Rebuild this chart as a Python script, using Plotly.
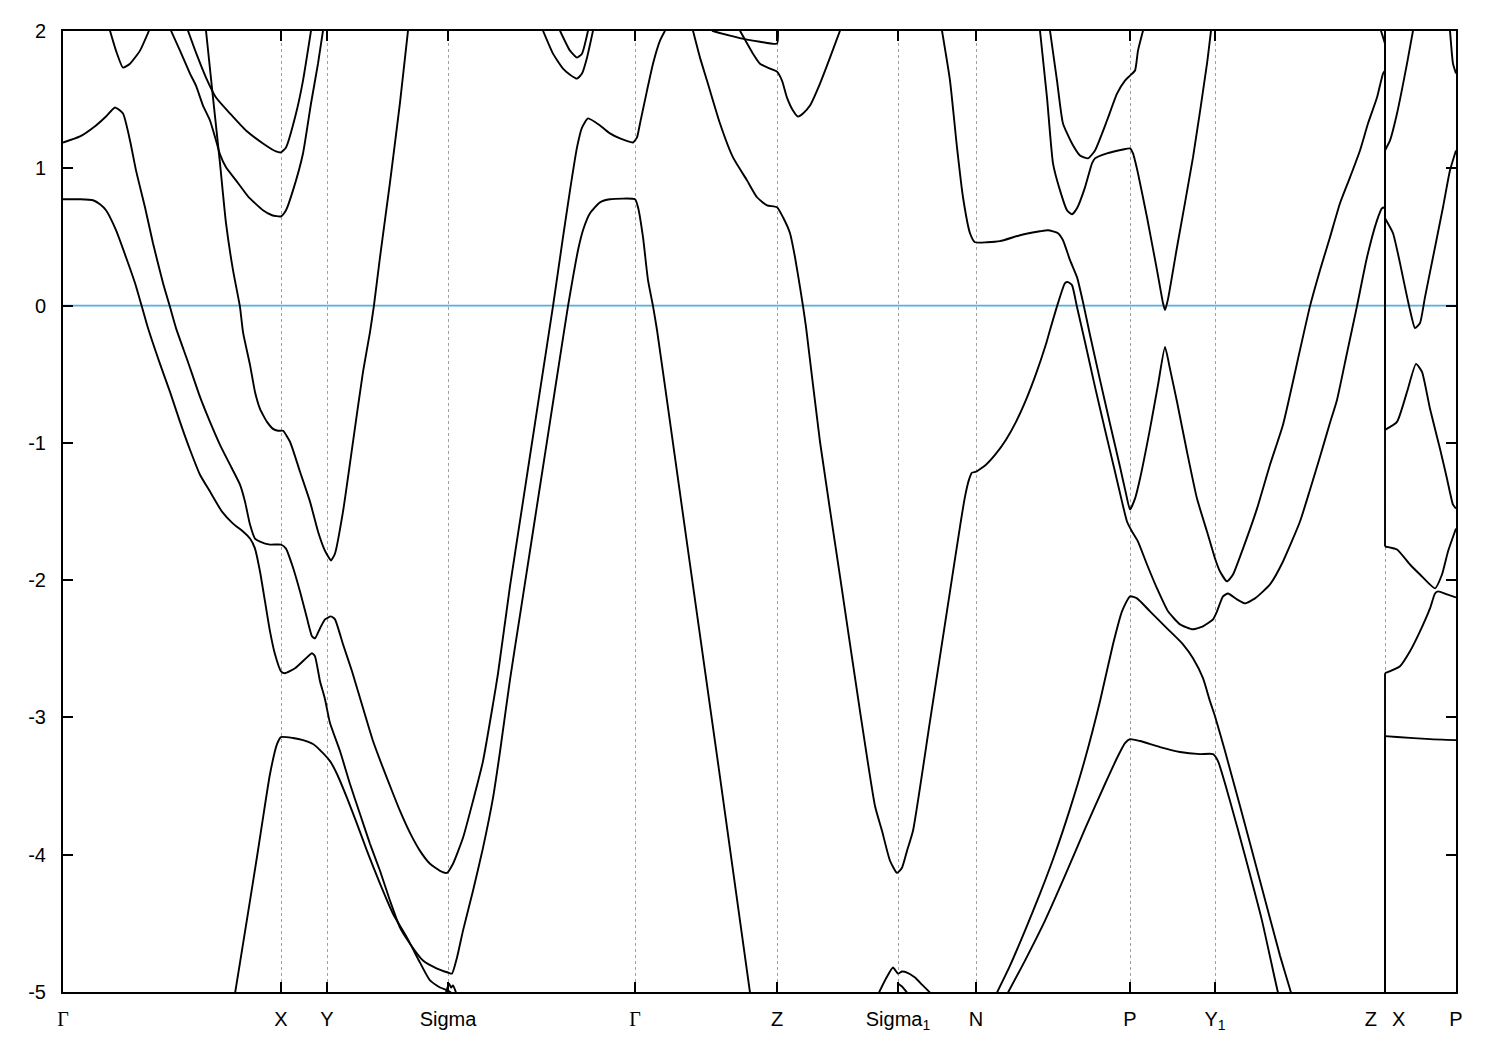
import plotly.graph_objects as go

# ---- high-symmetry path ----
k_ticks = [0.000, 0.218, 0.264, 0.385, 0.572, 0.714, 0.835, 0.913, 1.067, 1.152, 1.322, 1.393]
k_labels = ['<span style="font-family:Liberation Serif">Γ</span>', "X", "Y", "Sigma",
            '<span style="font-family:Liberation Serif">Γ</span>', "Z", "Sigma<sub>1</sub>", "N",
            "P", "Y<sub>1</sub>", "Z\u00a0\u00a0\u2009X", "P"]
e_ticks = [-5, -4, -3, -2, -1, 0, 1, 2]
e_labels = ["-5", "-4", "-3", "-2", "-1", "0", "1", "2"]
k_min, k_max = 0.0, 1.393
e_min, e_max = -5, 2
fermi = 0.0

# ---- bands (k, E in eV) ----
k_b1 = [0.000,0.017,0.030,0.037,0.043,0.053,0.063,0.072,0.079,0.085,0.097,0.107,0.117,0.127,0.137,0.147,0.159,0.170,0.180,0.187,0.192,0.197,0.202,0.207,0.212,0.218,0.222,0.232,0.242,0.249,0.252,0.257,0.262,0.267,0.277,0.287,0.297,0.307,0.317,0.327,0.337,0.347,0.360,0.374,0.385,0.389,0.394,0.400,0.410,0.420,0.430,0.437,0.447,0.457,0.467,0.477,0.487,0.497,0.505,0.510,0.515,0.520,0.527,0.537,0.547,0.572,0.575,0.580,0.585,0.590,0.594,0.607,0.627,0.657,0.687]
e_b1 = [0.774,0.774,0.767,0.738,0.694,0.549,0.352,0.164,-0.011,-0.164,-0.425,-0.629,-0.847,-1.050,-1.232,-1.355,-1.501,-1.588,-1.646,-1.697,-1.770,-1.937,-2.155,-2.373,-2.540,-2.664,-2.678,-2.642,-2.576,-2.533,-2.555,-2.736,-2.867,-3.041,-3.245,-3.485,-3.703,-3.921,-4.117,-4.335,-4.531,-4.648,-4.771,-4.829,-4.858,-4.866,-4.749,-4.553,-4.262,-3.950,-3.586,-3.250,-2.725,-2.255,-1.786,-1.316,-0.847,-0.377,-0.004,0.207,0.403,0.549,0.672,0.752,0.774,0.774,0.716,0.498,0.185,-0.004,-0.178,-0.847,-1.886,-3.434,-5.004]

k_b2 = [0.000,0.017,0.033,0.043,0.052,0.060,0.067,0.073,0.082,0.090,0.100,0.107,0.113,0.125,0.137,0.147,0.157,0.167,0.177,0.182,0.187,0.192,0.197,0.207,0.218,0.223,0.229,0.237,0.244,0.249,0.252,0.257,0.262,0.268,0.272,0.280,0.289,0.300,0.310,0.320,0.329,0.337,0.347,0.357,0.367,0.377,0.384,0.390,0.400,0.410,0.420,0.430,0.435,0.447,0.457,0.467,0.477,0.490,0.500,0.507,0.514,0.519,0.525,0.537,0.547,0.557,0.570,0.574,0.577,0.584,0.590,0.597,0.602]
e_b2 = [1.188,1.232,1.312,1.377,1.443,1.399,1.203,0.985,0.716,0.454,0.164,-0.011,-0.164,-0.411,-0.665,-0.847,-1.014,-1.159,-1.304,-1.428,-1.595,-1.697,-1.719,-1.741,-1.741,-1.770,-1.886,-2.082,-2.278,-2.409,-2.424,-2.351,-2.286,-2.264,-2.286,-2.467,-2.664,-2.932,-3.172,-3.368,-3.536,-3.681,-3.841,-3.972,-4.066,-4.117,-4.132,-4.066,-3.877,-3.608,-3.318,-2.903,-2.680,-2.044,-1.569,-1.094,-0.620,-0.004,0.498,0.839,1.152,1.297,1.363,1.312,1.254,1.217,1.188,1.225,1.326,1.566,1.762,1.930,2.002]

k_b3 = [0.143,0.150,0.157,0.163,0.170,0.177,0.180,0.187,0.192,0.197,0.200,0.204,0.210,0.215,0.220,0.227,0.237,0.247,0.255,0.261,0.264,0.268,0.272,0.280,0.290,0.300,0.307,0.311,0.317,0.327,0.337,0.345]
e_b3 = [2.002,1.515,1.036,0.600,0.258,-0.011,-0.193,-0.432,-0.629,-0.752,-0.796,-0.847,-0.898,-0.912,-0.912,-0.992,-1.210,-1.428,-1.646,-1.770,-1.813,-1.857,-1.806,-1.501,-0.992,-0.483,-0.193,0.004,0.352,0.898,1.479,2.002]

k_b4 = [0.108,0.117,0.127,0.133,0.140,0.147,0.153,0.157,0.163,0.173,0.185,0.200,0.209,0.218,0.223,0.230,0.240,0.248,0.255,0.260]
e_b4 = [2.002,1.857,1.690,1.602,1.457,1.348,1.203,1.101,1.007,0.912,0.796,0.694,0.658,0.650,0.694,0.839,1.108,1.472,1.762,2.002]

k_b5 = [0.125,0.133,0.143,0.153,0.167,0.183,0.200,0.213,0.218,0.223,0.233,0.240,0.248]
e_b5 = [2.002,1.842,1.661,1.515,1.399,1.275,1.181,1.123,1.116,1.152,1.399,1.639,2.002]

k_b6 = [0.047,0.053,0.060,0.067,0.077,0.086]
e_b6 = [2.002,1.857,1.733,1.762,1.857,2.002]

k_b7 = [0.172,0.177,0.182,0.187,0.194,0.200,0.207,0.214,0.218,0.230,0.240,0.250,0.257,0.267,0.274,0.284,0.294,0.304,0.317,0.330,0.344,0.357,0.367,0.377,0.385,0.389]
e_b7 = [-5.011,-4.786,-4.560,-4.335,-4.015,-3.732,-3.412,-3.194,-3.143,-3.150,-3.165,-3.194,-3.238,-3.318,-3.412,-3.586,-3.775,-3.972,-4.211,-4.430,-4.604,-4.786,-4.916,-4.967,-4.989,-5.011]

k_b8 = [0.383,0.386,0.388,0.390,0.393]
e_b8 = [-5.004,-4.938,-4.967,-4.953,-5.004]

k_b9 = [0.480,0.490,0.500,0.507,0.514,0.519,0.524,0.530]
e_b9 = [2.002,1.835,1.726,1.682,1.653,1.690,1.806,2.002]

k_b10 = [0.497,0.507,0.514,0.519,0.525]
e_b10 = [2.002,1.857,1.806,1.835,2.002]

k_b11 = [0.630,0.637,0.644,0.657,0.670,0.684,0.694,0.704,0.714,0.720,0.727,0.732,0.737,0.740,0.743,0.757,0.777,0.797,0.812,0.819,0.827,0.834,0.839,0.844,0.850,0.867,0.887,0.897,0.902,0.906,0.909,0.913,0.923,0.933,0.943,0.953,0.963,0.973,0.983,0.987,0.995,1.002,1.005,1.009,1.014,1.022,1.032,1.042,1.052,1.059,1.064,1.069,1.075,1.084,1.094,1.105,1.117,1.130,1.140,1.150,1.154,1.160,1.165,1.174,1.182,1.192,1.207,1.220,1.237,1.247,1.257,1.267,1.274,1.284,1.294,1.304,1.314,1.319,1.322,1.322,1.334,1.347,1.357,1.372,1.379,1.385,1.393]
e_b11 = [2.002,1.806,1.639,1.326,1.079,0.912,0.789,0.730,0.716,0.643,0.527,0.352,0.134,-0.004,-0.156,-0.992,-1.973,-2.954,-3.645,-3.826,-4.044,-4.132,-4.095,-3.972,-3.826,-3.027,-2.082,-1.610,-1.392,-1.268,-1.217,-1.210,-1.159,-1.079,-0.977,-0.847,-0.687,-0.498,-0.280,-0.178,0.018,0.164,0.171,0.149,-0.011,-0.265,-0.592,-0.905,-1.210,-1.428,-1.573,-1.646,-1.719,-1.886,-2.060,-2.227,-2.322,-2.358,-2.336,-2.286,-2.227,-2.118,-2.097,-2.140,-2.169,-2.133,-2.031,-1.864,-1.573,-1.341,-1.101,-0.854,-0.687,-0.345,-0.004,0.352,0.621,0.709,0.716,-1.755,-1.777,-1.886,-1.959,-2.060,-1.959,-1.791,-1.624]

k_b12 = [0.879,0.887,0.894,0.900,0.907,0.912,0.924,0.937,0.957,0.977,0.985,0.995,1.000,1.007,1.014,1.020,1.027,1.037,1.047,1.057,1.063,1.067,1.072,1.077,1.087,1.095,1.102,1.107,1.114,1.124,1.134,1.144,1.152,1.157,1.164,1.170,1.180,1.194,1.207,1.220,1.237,1.247,1.257,1.267,1.277,1.287,1.297,1.305,1.314,1.320,1.322,1.322,1.334,1.344,1.353,1.359,1.367,1.377,1.384,1.390,1.393]
e_b12 = [2.002,1.639,1.152,0.789,0.527,0.461,0.461,0.469,0.512,0.541,0.549,0.527,0.476,0.331,0.207,0.025,-0.214,-0.541,-0.861,-1.174,-1.370,-1.486,-1.406,-1.261,-0.898,-0.578,-0.302,-0.461,-0.701,-1.065,-1.406,-1.646,-1.842,-1.937,-2.009,-1.959,-1.770,-1.479,-1.159,-0.868,-0.323,-0.004,0.258,0.498,0.745,0.934,1.130,1.326,1.515,1.690,1.712,-0.905,-0.847,-0.629,-0.425,-0.483,-0.752,-1.043,-1.261,-1.450,-1.479]

k_b13 = [0.977,0.984,0.990,0.997,1.004,1.009,1.014,1.022,1.029,1.032,1.044,1.060,1.067,1.070,1.075,1.084,1.094,1.100,1.102,1.105,1.114,1.130,1.144,1.148]
e_b13 = [2.002,1.515,1.036,0.839,0.694,0.665,0.709,0.861,1.036,1.072,1.108,1.137,1.145,1.108,0.963,0.643,0.258,0.018,-0.033,0.047,0.425,1.079,1.762,2.002]

k_b14 = [0.987,0.994,1.000,1.009,1.017,1.025,1.032,1.044,1.054,1.062,1.067,1.072,1.075,1.080]
e_b14 = [2.002,1.639,1.326,1.181,1.094,1.072,1.130,1.348,1.544,1.639,1.675,1.712,1.857,2.002]

k_b15 = [0.934,0.947,0.962,0.977,0.992,1.007,1.022,1.037,1.050,1.059,1.067,1.074,1.087,1.104,1.120,1.130,1.140,1.147,1.152,1.162,1.177,1.197,1.217,1.228,1.237,1.322,1.322,1.337,1.347,1.357,1.367,1.372,1.375,1.384,1.393]
e_b15 = [-5.004,-4.808,-4.553,-4.284,-3.993,-3.666,-3.303,-2.882,-2.467,-2.227,-2.118,-2.133,-2.227,-2.351,-2.467,-2.569,-2.714,-2.882,-2.991,-3.245,-3.645,-4.190,-4.735,-5.004,-5.243,-5.800,-2.678,-2.627,-2.518,-2.373,-2.206,-2.097,-2.082,-2.104,-2.126]

k_b16 = [0.945,0.962,0.982,1.002,1.022,1.042,1.055,1.062,1.067,1.077,1.097,1.117,1.137,1.150,1.155,1.167,1.182,1.199,1.215,1.227,1.322,1.322,1.334,1.367,1.393]
e_b16 = [-5.004,-4.771,-4.480,-4.153,-3.812,-3.485,-3.281,-3.187,-3.158,-3.172,-3.216,-3.252,-3.267,-3.267,-3.318,-3.608,-4.008,-4.480,-5.004,-5.316,-6.200,-3.136,-3.143,-3.158,-3.165]

k_b17 = [0.649,0.667,0.684,0.697,0.714,0.715]
e_b17 = [2.002,1.966,1.937,1.922,1.908,2.002]

k_b18 = [0.677,0.690,0.697,0.707,0.714,0.719,0.724,0.730,0.735,0.740,0.747,0.757,0.767,0.777]
e_b18 = [2.002,1.835,1.762,1.726,1.704,1.639,1.515,1.421,1.377,1.399,1.457,1.617,1.806,2.002]

k_b19 = [0.816,0.823,0.830,0.835,0.839,0.844,0.852,0.859,0.867]
e_b19 = [-5.004,-4.902,-4.822,-4.866,-4.851,-4.858,-4.895,-4.946,-5.004]

k_b20 = [0.835,0.835,0.839,0.844]
e_b20 = [-5.004,-4.938,-4.960,-5.004]

k_b21 = [1.318,1.322,1.322,1.330,1.337,1.342,1.347,1.352,1.357,1.362,1.370,1.380,1.387,1.393]
e_b21 = [2.002,1.908,0.636,0.527,0.309,0.134,-0.033,-0.164,-0.127,0.062,0.352,0.716,0.985,1.130]

k_b22 = [1.322,1.322,1.327,1.334,1.344,1.350]
e_b22 = [2.400,1.130,1.203,1.399,1.762,2.002]

k_b23 = [1.387,1.390,1.393]
e_b23 = [2.002,1.762,1.690]

bands = [(k_b1, e_b1), (k_b2, e_b2), (k_b3, e_b3), (k_b4, e_b4), (k_b5, e_b5),
         (k_b6, e_b6), (k_b7, e_b7), (k_b8, e_b8), (k_b9, e_b9), (k_b10, e_b10),
         (k_b11, e_b11), (k_b12, e_b12), (k_b13, e_b13), (k_b14, e_b14), (k_b15, e_b15),
         (k_b16, e_b16), (k_b17, e_b17), (k_b18, e_b18), (k_b19, e_b19), (k_b20, e_b20),
         (k_b21, e_b21), (k_b22, e_b22), (k_b23, e_b23)]

fig = go.Figure()
fig.add_trace(go.Scatter(x=[k_min, k_max], y=[fermi, fermi], mode="lines",
                         line=dict(color="#52b0e6", width=1.8),
                         hoverinfo="skip", showlegend=False))


def add_piece(kk, ee, shape):
    if len(kk) < 2:
        return
    line = dict(color="black", width=1.9, shape=shape)
    if shape == "spline":
        line["smoothing"] = 0.5
    fig.add_trace(go.Scatter(x=kk, y=ee, mode="lines", line=line,
                             hoverinfo="skip", showlegend=False))


for kk, ee in bands:
    # split at path discontinuities (repeated k): smooth pieces + straight jump
    start = 0
    for i in range(len(kk) - 1):
        if kk[i] == kk[i + 1]:
            add_piece(kk[start:i + 1], ee[start:i + 1], "spline")
            add_piece(kk[i:i + 2], ee[i:i + 2], "linear")
            start = i + 1
    add_piece(kk[start:], ee[start:], "spline")

font_main = "Liberation Sans, Arial, sans-serif"
# the page body adds an 8 px offset, so margins are reduced accordingly
fig.update_layout(
    width=1500, height=1050,
    margin=dict(l=55, r=52, t=20, b=66, pad=0),
    paper_bgcolor="white", plot_bgcolor="white",
    font=dict(family=font_main, size=20, color="black"),
    showlegend=False,
)
fig.update_xaxes(
    range=[k_min, k_max], tickmode="array", tickvals=k_ticks, ticktext=k_labels,
    ticks="inside", ticklen=10, tickwidth=1.5, tickcolor="black",
    showline=True, linecolor="black", linewidth=2, mirror="allticks",
    showgrid=True, gridcolor="#a0a0a0", gridwidth=1, griddash="3px,3px",
    zeroline=False, ticklabelstandoff=8,
    tickfont=dict(family=font_main, size=20, color="black"),
)
fig.update_yaxes(
    range=[e_min, e_max], tickmode="array", tickvals=e_ticks, ticktext=e_labels,
    ticks="inside", ticklen=10, tickwidth=1.5, tickcolor="black",
    showline=True, linecolor="black", linewidth=2, mirror="allticks",
    showgrid=False, zeroline=False, ticklabelstandoff=11,
    tickfont=dict(family=font_main, size=20, color="black"),
)
fig.write_html("out.html")
